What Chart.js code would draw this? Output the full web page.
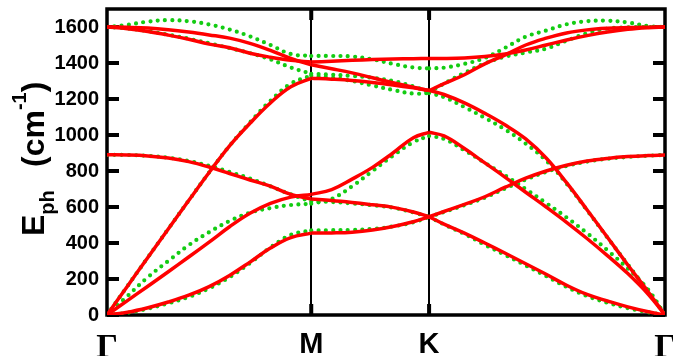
<!DOCTYPE html>
<html>
<head>
<meta charset="utf-8">
<script src="https://cdn.jsdelivr.net/npm/chart.js@4.4.0/dist/chart.umd.min.js"></script>
<style>
  html, body { margin: 0; padding: 0; background: #fff; }
</style>
</head>
<body>
<canvas id="chart" width="673" height="356"></canvas>
<script>
// distance along the path Γ-M-K-Γ, with |ΓM| = 1
const kPath = [0, 0.1, 0.2, 0.3, 0.4, 0.5, 0.6, 0.7, 0.8, 0.9, 1.0,
               1.1, 1.2, 1.3, 1.4, 1.5, 1.577,
               1.65, 1.75, 1.85, 1.95, 2.05, 2.15, 2.25, 2.35, 2.45, 2.55, 2.65, 2.732];
const pointIdx = [0, 10, 16, 28];          // Γ, M, K, Γ
const kLabels = ['Γ', 'M', 'K', 'Γ'];
const yTicks = [0, 200, 400, 600, 800, 1000, 1200, 1400, 1600];

// red (solid) branches, cm^-1
const redZA = [0, 15, 40, 72, 110, 158, 220, 294, 372, 430, 455, 456, 460, 472, 492, 518, 546, 505, 455, 400, 343, 285, 226, 165, 114, 78, 45, 18, 0];
const redTA = [0, 80, 160, 240, 322, 405, 490, 565, 620, 655, 670, 697, 755, 820, 900, 985, 1015, 995, 925, 845, 765, 682, 600, 515, 425, 330, 230, 115, 0];
const redZO = [890, 889, 884, 872, 852, 822, 786, 750, 716, 670, 644, 636, 625, 612, 598, 572, 546, 575, 615, 657, 710, 760, 800, 832, 855, 870, 880, 886, 889];
const redLA = [0, 160, 320, 478, 636, 792, 940, 1065, 1178, 1268, 1315, 1310, 1303, 1292, 1278, 1262, 1248, 1225, 1178, 1120, 1055, 978, 872, 735, 585, 432, 278, 128, 0];
const redLO = [1600, 1598, 1594, 1585, 1572, 1556, 1538, 1509, 1470, 1425, 1390, 1368, 1345, 1318, 1290, 1265, 1247, 1285, 1335, 1395, 1445, 1500, 1538, 1567, 1584, 1593, 1597, 1599, 1600];
const redTO = [1600, 1590, 1575, 1555, 1532, 1505, 1485, 1454, 1432, 1415, 1405, 1410, 1415, 1419, 1422, 1424, 1425, 1425, 1428, 1436, 1450, 1472, 1500, 1528, 1552, 1572, 1587, 1596, 1600];

// green (dotted) branches, cm^-1
const grnZA = [0, 12, 35, 65, 100, 148, 210, 288, 375, 445, 470, 471, 473, 478, 492, 515, 545, 503, 450, 390, 333, 275, 216, 156, 105, 68, 38, 15, 0];
const grnTA = [0, 105, 210, 300, 388, 460, 522, 568, 594, 611, 618, 645, 715, 800, 885, 960, 995, 978, 915, 845, 775, 700, 622, 542, 455, 360, 258, 140, 0];
const grnZO = [890, 889, 884, 874, 856, 828, 795, 758, 715, 670, 630, 628, 620, 610, 596, 570, 545, 572, 610, 652, 703, 752, 795, 828, 852, 868, 878, 885, 889];
const grnLA = [0, 160, 320, 478, 636, 792, 940, 1070, 1190, 1285, 1330, 1318, 1300, 1275, 1250, 1230, 1233, 1210, 1155, 1095, 1030, 952, 858, 730, 582, 430, 280, 130, 0];
const grnLO = [1600, 1592, 1577, 1557, 1535, 1510, 1483, 1455, 1420, 1375, 1340, 1335, 1328, 1318, 1300, 1270, 1238, 1285, 1345, 1398, 1435, 1458, 1480, 1524, 1565, 1591, 1598, 1600, 1600];
const grnTO = [1600, 1612, 1630, 1638, 1632, 1614, 1586, 1548, 1500, 1450, 1439, 1439, 1436, 1420, 1395, 1375, 1370, 1374, 1395, 1428, 1485, 1546, 1580, 1615, 1632, 1635, 1625, 1605, 1600];

const redBranches = [redZA, redTA, redZO, redLA, redLO, redTO];
const grnBranches = [grnZA, grnTA, grnZO, grnLA, grnLO, grnTO];

// every branch is drawn as three pieces so the kinks at M and K stay sharp
function pieces(branch) {
  const out = [];
  for (let s = 0; s < 3; s++) {
    const pts = [];
    for (let i = pointIdx[s]; i <= pointIdx[s + 1]; i++) pts.push({ x: kPath[i], y: branch[i] });
    out.push(pts);
  }
  return out;
}

const datasets = [];
grnBranches.forEach(b => pieces(b).forEach(pts => datasets.push({
  data: pts, borderColor: '#13cc13', borderWidth: 4.2, borderDash: [0, 7.3],
  borderCapStyle: 'round', pointRadius: 0, tension: 0.4, order: 1
})));
redBranches.forEach(b => pieces(b).forEach(pts => datasets.push({
  data: pts, borderColor: '#ff0000', borderWidth: 3.5,
  pointRadius: 0, tension: 0.4, order: 0
})));

const frame = {
  id: 'frame',
  beforeDatasetsDraw(chart) {
    const { ctx, chartArea: a, scales: { x, y } } = chart;
    ctx.save();
    ctx.strokeStyle = '#000';
    ctx.lineWidth = 4;
    yTicks.forEach(v => {
      const py = Math.round(y.getPixelForValue(v));
      ctx.beginPath();
      ctx.moveTo(a.left, py); ctx.lineTo(a.left + 12, py);
      ctx.moveTo(a.right, py); ctx.lineTo(a.right - 12, py);
      ctx.stroke();
    });
    [1, 2].forEach(i => {
      const px = x.getPixelForValue(kPath[pointIdx[i]]);
      ctx.beginPath();
      ctx.moveTo(px, a.top); ctx.lineTo(px, a.top + 11);
      ctx.moveTo(px, a.bottom); ctx.lineTo(px, a.bottom - 11);
      ctx.stroke();
    });
    ctx.lineWidth = 3.5;
    ctx.strokeRect(a.left, a.top, a.right - a.left, a.bottom - a.top);
    ctx.restore();
  },
  afterDraw(chart) {
    // y title: E_ph (cm^-1), rotated
    const ctx = chart.ctx;
    ctx.save();
    ctx.translate(44, 236);
    ctx.rotate(-Math.PI / 2);
    ctx.fillStyle = '#000';
    const big = 'bold 32px "Liberation Sans", Arial, sans-serif';
    const small = 'bold 20px "Liberation Sans", Arial, sans-serif';
    ctx.font = big; ctx.fillText('E', 0, 0);
    let cx = ctx.measureText('E').width;
    ctx.font = small; ctx.fillText('ph', cx, 10);
    cx = 69;
    ctx.font = big; ctx.fillText('(cm', cx, 0);
    cx += ctx.measureText('(cm').width;
    ctx.font = small; ctx.fillText('-1', cx, -18);
    cx += ctx.measureText('-1').width;
    ctx.font = big; ctx.fillText(')', cx, 0);
    ctx.restore();
  }
};

new Chart(document.getElementById('chart'), {
  type: 'line',
  data: { datasets },
  options: {
    responsive: false,
    devicePixelRatio: 1,
    animation: false,
    layout: { padding: { top: 9, right: 8 } },
    plugins: { legend: { display: false }, tooltip: { enabled: false } },
    scales: {
      x: {
        type: 'linear', min: 0, max: kPath[kPath.length - 1],
        afterBuildTicks: s => { s.ticks = pointIdx.map(i => ({ value: kPath[i] })); },
        afterFit: s => { s.height = 41; s.paddingLeft = 0; s.paddingRight = 0; },
        ticks: {
          autoSkip: false, maxRotation: 0, padding: 13, color: '#000',
          callback: (v, i) => kLabels[i],
          font: c => (c.index === 0 || c.index === 3)
            ? { family: '"Liberation Serif", "Times New Roman", serif', size: 34, weight: 'bold' }
            : { family: '"Liberation Sans", Arial, sans-serif', size: 29, weight: 'bold' }
        },
        grid: {
          color: '#000', drawTicks: false,
          lineWidth: c => (c.index === 1 || c.index === 2) ? 2 : 0
        },
        border: { display: false }
      },
      y: {
        min: 0, max: 1700,
        afterBuildTicks: s => { s.ticks = yTicks.map(v => ({ value: v })); },
        afterFit: s => { s.width = 107; s.paddingTop = 0; s.paddingBottom = 0; },
        ticks: {
          padding: 8, color: '#000',
          callback: v => String(v),
          font: { family: '"Liberation Sans", Arial, sans-serif', size: 20, weight: 'bold' }
        },
        grid: { drawOnChartArea: false, drawTicks: false },
        border: { display: false }
      }
    }
  },
  plugins: [frame]
});
</script>
</body>
</html>
